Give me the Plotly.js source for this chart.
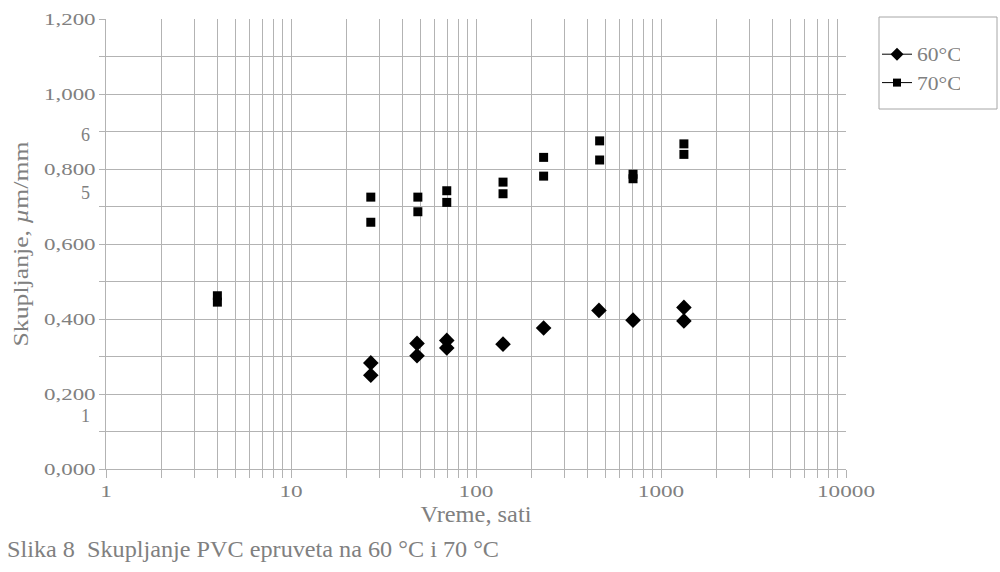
<!DOCTYPE html>
<html>
<head>
<meta charset="utf-8">
<script src="https://cdn.plot.ly/plotly-3.0.1.min.js"></script>
<style>
  html, body { margin: 0; padding: 0; background: #fff; }
  #chart { width: 1000px; height: 572px; }
</style>
</head>
<body>
<div id="chart"></div>
<script>
// hours
var hours70 = [4, 4, 27, 27, 48.5, 48.5, 69.5, 69.5, 140, 140, 232, 232, 466, 466, 706, 706, 1330, 1330];
var shrink70 = [0.462, 0.445, 0.725, 0.658, 0.725, 0.686, 0.742, 0.711, 0.765, 0.734, 0.831, 0.781, 0.875, 0.824, 0.786, 0.774, 0.867, 0.839];

var hours60 = [27, 27, 48, 48, 69.5, 69.5, 140, 232, 462, 706, 1330, 1330];
var shrink60 = [0.283, 0.250, 0.335, 0.302, 0.343, 0.323, 0.333, 0.376, 0.423, 0.397, 0.431, 0.395];

var yTicks = [0, 0.1, 0.2, 0.3, 0.4, 0.5, 0.6, 0.7, 0.8, 0.9, 1.0, 1.1, 1.2];
var yLabels = ['0,000', '', '0,200', '', '0,400', '', '0,600', '', '0,800', '', '1,000', '', '1,200'];

// stray labels sitting on the y axis
var strayText = ['1', '5', '6'];
var strayY = [0.141, 0.736, 0.891];

var caption = 'Slika 8  Skupljanje PVC epruveta na 60 °C i 70 °C';

var grey = '#808080';
var gridC = '#b3b3b3';
var serif = 'Liberation Serif, DejaVu Serif, serif';

var traces = [
  { x: hours60, y: shrink60, mode: 'markers', showlegend: false,
    marker: { symbol: 'diamond', size: 12, color: '#000' } },
  { x: hours70, y: shrink70, mode: 'markers', showlegend: false,
    marker: { symbol: 'square', size: 9, color: '#000' } },
  { x: [null], y: [null], mode: 'lines+markers', name: '60°C', legendgroup: 'a',
    line: { color: '#000', width: 1 }, marker: { symbol: 'diamond', size: 10, color: '#000' } },
  { x: [null], y: [null], mode: 'lines+markers', name: '70°C', legendgroup: 'b',
    line: { color: '#000', width: 1 }, marker: { symbol: 'square', size: 8, color: '#000' } }
];

var annotations = strayText.map(function (t, i) {
  return { text: t, xref: 'paper', yref: 'y', x: 0, y: strayY[i], xanchor: 'right',
    xshift: -14, showarrow: false, font: { family: serif, size: 18, color: grey } };
});
annotations.push({ text: caption, xref: 'paper', yref: 'paper',
  x: -101 / 740, y: -80 / 450, xanchor: 'left', yanchor: 'middle', showarrow: false,
  font: { family: serif, size: 24, color: grey } });

var layout = {
  width: 1000, height: 572,
  margin: { l: 106, r: 154, t: 19, b: 103 },
  paper_bgcolor: '#fff', plot_bgcolor: '#fff',
  showlegend: true,
  legend: { x: 1 + 31 / 740, y: (469 - 36) / 450, xanchor: 'left', yanchor: 'top', borderwidth: 0,
    bgcolor: 'rgba(0,0,0,0)', itemwidth: 30,
    font: { family: serif, size: 18, color: grey }, tracegroupgap: 2 },
  shapes: [{ type: 'rect', xref: 'paper', yref: 'paper',
    x0: 1 + 33 / 740, x1: 1 + 151 / 740, y0: (469 - 109) / 450, y1: (469 - 17) / 450,
    line: { color: '#a6a6a6', width: 1 } }],
  xaxis: {
    type: 'log', range: [0, 4], tickvals: [1, 10, 100, 1000, 10000], ticktext: ['1', '10', '100', '1000', '10000'],
    showgrid: true, gridcolor: gridC, gridwidth: 1, showline: true, linecolor: gridC, zeroline: false,
    ticks: 'outside', ticklen: 8, tickcolor: gridC,
    minor: { dtick: 'D1', showgrid: true, gridcolor: gridC, ticks: 'outside', ticklen: 8, tickcolor: gridC },
    tickfont: { family: serif, size: 16, color: grey },
    title: { text: 'Vreme, sati', font: { family: serif, size: 23, color: grey }, standoff: 6 }
  },
  yaxis: {
    range: [0, 1.2], tickvals: yTicks, ticktext: yLabels,
    showgrid: true, gridcolor: gridC, gridwidth: 1, showline: true, linecolor: gridC, zeroline: false,
    ticks: 'outside', ticklen: 6, tickcolor: gridC,
    tickfont: { family: serif, size: 17, color: grey },
    title: { text: 'Skupljanje, <i>µ</i>m/mm', font: { family: serif, size: 22, color: grey }, standoff: 22 }
  },
  annotations: annotations
};

// the original typefaces are wider than the installed ones
function stretch(list, factor, fixed, keepLeft) {
  list.forEach(function (el) {
    var left = el.getBBox().x;
    var w = fixed || el.getComputedTextLength() * factor;
    el.setAttribute('textLength', w);
    el.setAttribute('lengthAdjust', 'spacingAndGlyphs');
    if (keepLeft) {
      var x0 = parseFloat(el.getAttribute('x') || '0');
      el.setAttribute('x', x0 + (left - el.getBBox().x));
    }
  });
}

Plotly.newPlot('chart', traces, layout, { displayModeBar: false, staticPlot: true }).then(function (gd) {
  var all = function (s) { return Array.prototype.slice.call(gd.querySelectorAll(s)); };
  stretch(all('.xtick text'), 1.45);
  stretch(all('.ytick text'), 1.35);
  stretch(all('.legendtext'), 1.2, 0, true);
  stretch(all('.g-xtitle text'), 0, 111);
  stretch(all('.g-ytitle text'), 0, 205);
  stretch(all('.annotation-text').filter(function (el) { return el.textContent === caption; }), 0, 492, true);
});
</script>
</body>
</html>
